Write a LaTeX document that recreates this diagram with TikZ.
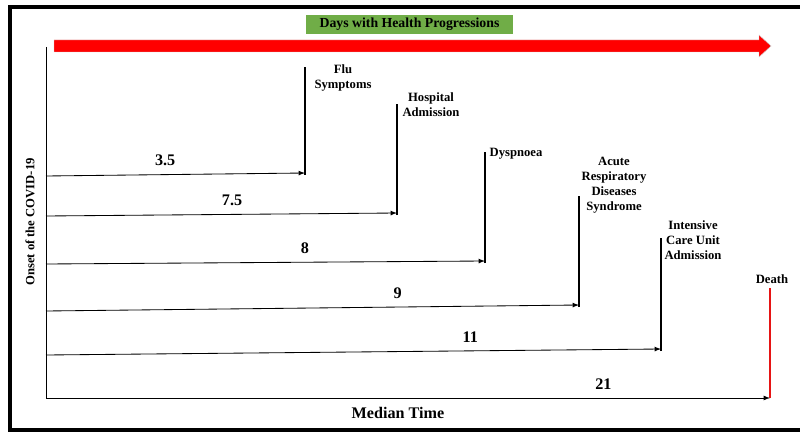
\documentclass[tikz,border=0pt]{standalone}
\usepackage{fontspec}
\setmainfont{Liberation Serif}
\usetikzlibrary{arrows,positioning}

\definecolor{headgreen}{RGB}{112,173,71}
\definecolor{deathred}{RGB}{230,20,20}

\begin{document}
\begin{tikzpicture}[x=0.025cm,y=-0.025cm,>=latex,
    every node/.style={font=\bfseries\fontsize{9}{10.8}\selectfont},
    span/.style={->,line width=0.6pt},
    event/.style={line width=1.7pt},
    lbl/.style={align=center,inner sep=1pt},
    num/.style={font=\bfseries\fontsize{11.5}{13}\selectfont,above=2.5pt}]
  \useasboundingbox (0,0) rectangle (800,432);
  % frame
  \draw[line width=2.8pt] (800,7) -- (10,7) -- (10,430) -- (800,430);

  % title and progression arrow
  \node[fill=headgreen,minimum width=207*0.025cm,minimum height=19*0.025cm,
        inner sep=0pt,font=\bfseries\fontsize{9.8}{11}\selectfont] (title) at (409.5,24.5) {Days with\ Health\ Progressions};
  \fill[red,draw=gray!40,line width=0.3pt] (54,40) -- (759,40) -- (759,35) -- (771,46)
    -- (759,57) -- (759,52) -- (54,52) -- cycle;

  % onset points, event ends and tops
  \coordinate (o1) at (46,176); \coordinate (e1) at (305,173); \coordinate (t1) at (305,67);
  \coordinate (o2) at (46,216); \coordinate (e2) at (397,213); \coordinate (t2) at (397,104);
  \coordinate (o3) at (46,264); \coordinate (e3) at (485,261); \coordinate (t3) at (485,152);
  \coordinate (o4) at (46,311); \coordinate (e4) at (579,305); \coordinate (t4) at (579,196);
  \coordinate (o5) at (46,355); \coordinate (e5) at (661,349); \coordinate (t5) at (661,238);
  \coordinate (o6) at (46,398); \coordinate (e6) at (770,398); \coordinate (t6) at (770,288);
  \coordinate (top) at (46,47);

  % axis
  \draw[line width=0.7pt] (top) -- (o6);

  % spans
  \draw[span] (o1) -- node[num,pos=0.46] {3.5} (e1);
  \draw[span] (o2) -- node[num,pos=0.53] {7.5} (e2);
  \draw[span] (o3) -- node[num,pos=0.59] {8} (e3);
  \draw[span] (o4) -- node[num,pos=0.66] {9} (e4);
  \draw[span] (o5) -- node[num,pos=0.69] {11} (e5);
  \draw[span] (o6) -- node[num,pos=0.77] {21} (e6);

  % events
  \draw[event] ([yshift=-0.05cm]e1) -- (t1);
  \draw[event] ([yshift=-0.05cm]e2) -- (t2);
  \draw[event] ([yshift=-0.05cm]e3) -- (t3);
  \draw[event] ([yshift=-0.05cm]e4) -- (t4);
  \draw[event] ([yshift=-0.05cm]e5) -- (t5);
  \draw[event,deathred] (e6) -- (t6);

  \node[lbl] (flu) at (343,78) {Flu\\Symptoms};
  \node[lbl] (hosp) at (431,105) {Hospital\\Admission};
  \node[lbl,anchor=west] (dysp) at (488,154) {Dyspnoea};
  \node[lbl] (ards) at (614,185) {Acute\\Respiratory\\Diseases\\Syndrome};
  \node[lbl] (icu) at (693,240) {Intensive\\Care Unit\\Admission};
  \node[lbl] (death) at (772,279) {Death};

  % axis titles
  \node[rotate=90] (onset) at (30,222) {Onset of the COVID-19};
  \node[font=\bfseries\fontsize{11.5}{13}\selectfont] (median) at (398,413) {Median Time};
\end{tikzpicture}
\end{document}
